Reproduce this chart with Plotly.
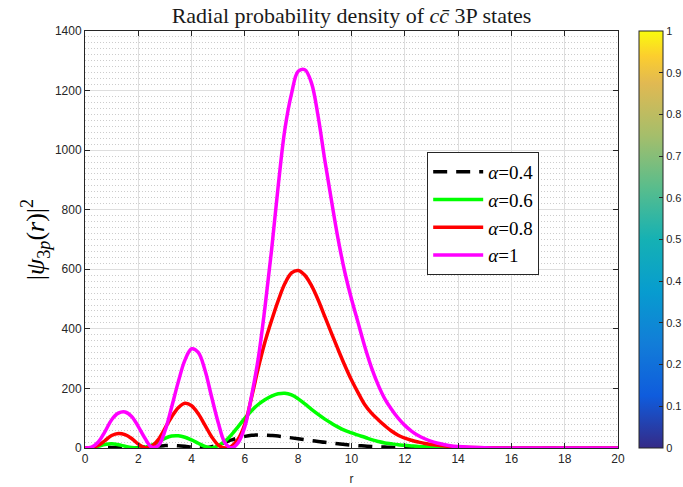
import plotly.graph_objects as go

# shared radial grid (r) on which all densities are tabulated
r = [0, 0.25, 0.5, 0.75, 1.0, 1.25, 1.5, 1.75, 2.0, 2.25, 2.5, 2.75, 3.0, 3.25, 3.5, 3.75,
     4.0, 4.25, 4.5, 4.75, 5.0, 5.25, 5.5, 5.75, 6.0, 6.25, 6.5, 6.75, 7.0, 7.25, 7.5, 7.75,
     8.0, 8.25, 8.5, 8.75, 9.0, 9.25, 9.5, 9.75, 10.0, 10.25, 10.5, 10.75, 11.0, 11.25, 11.5,
     11.75, 12.0, 12.25, 12.5, 12.75, 13.0, 13.25, 13.5, 13.75, 14.0, 15.0, 16.0, 17.0, 18.0,
     19.0, 20.0]

# |psi_3p(r)|^2 for alpha = 0.4, 0.6, 0.8, 1
p_a04 = [0, 0.3, 1.5, 2.2, 2.0, 1.0, 0.2, 0.1, 1.0, 3.0, 5.0, 7.0, 8.0, 8.5, 7.5, 5.5,
         3.0, 1.0, 0.2, 4.0, 11, 19, 27, 34, 39, 42.5, 44, 43.5, 42, 40, 37, 34,
         31, 28, 25, 22, 19, 16.5, 14, 11.5, 9.5, 8.0, 6.5, 5.0, 4.0, 3.2, 2.4,
         1.8, 1.3, 1.0, 0.7, 0.5, 0.3, 0.2, 0.15, 0.1, 0.1, 0, 0, 0, 0,
         0, 0]
p_a06 = [0, 1, 6, 12, 14, 11, 6, 1.5, 0.3, 3, 10, 20, 32, 40, 41, 36,
         27, 16, 5, 0.3, 8, 22, 45, 72, 100, 125, 146, 162, 174, 182, 184, 178,
         165, 148, 130, 113, 97, 83, 70, 59, 51, 43, 36, 28, 22, 17, 14,
         11, 9, 7, 5, 4, 3, 2, 1.5, 1, 0.5, 0, 0, 0, 0,
         0, 0]
p_a08 = [0, 1, 9, 25, 42, 49, 45, 32, 13, 0.5, 6, 28, 66, 104, 135, 150,
         142, 115, 77, 38, 10, 0.2, 6, 30, 80, 170, 268, 355, 428, 495, 552, 588,
         596, 580, 545, 497, 441, 385, 330, 277, 228, 185, 145, 117, 95, 75, 57,
         43, 33, 26, 20, 15, 12, 9, 7, 5, 3, 0.5, 0, 0, 0,
         0, 0]
p_a10 = [0, 3, 20, 55, 95, 117, 121, 106, 72, 33, 3, 8, 57, 137, 222, 295,
         333, 321, 262, 172, 85, 18, 0.5, 18, 72, 175, 300, 470, 664, 880, 1070, 1190,
         1265, 1270, 1225, 1112, 965, 830, 700, 590, 500, 420, 340, 270, 212, 165, 130,
         100, 76, 57, 42, 31, 22, 16, 11, 7, 5, 0.8, 0, 0, 0,
         0, 0]

alphas = ["0.4", "0.6", "0.8", "1"]

# parula colormap stops for the colorbar
parula = [
    [0.0, "rgb(53,42,135)"], [0.125, "rgb(15,92,221)"], [0.25, "rgb(18,125,216)"],
    [0.375, "rgb(7,156,207)"], [0.5, "rgb(21,177,180)"], [0.625, "rgb(89,189,140)"],
    [0.75, "rgb(165,190,107)"], [0.875, "rgb(225,185,82)"], [0.94, "rgb(252,206,46)"],
    [1.0, "rgb(249,251,14)"],
]

AX = "#262626"
SERIF = "Liberation Serif, DejaVu Serif, serif"
SANS = "Liberation Sans, Arial, sans-serif"

fig = go.Figure()

styles = [
    (p_a04, "black", "14px,9px"),
    (p_a06, "#00ff00", "solid"),
    (p_a08, "#ff0000", "solid"),
    (p_a10, "#ff00ff", "solid"),
]
for (pp, col, dash), a in zip(styles, alphas):
    fig.add_trace(go.Scatter(
        x=r, y=pp, mode="lines", name="<i>α</i>=" + a,
        line=dict(color=col, width=3.5, dash=dash, shape="spline", smoothing=1.0),
    ))

# colorbar carrier (no visible marks)
fig.add_trace(go.Scatter(
    x=[None], y=[None], mode="markers", showlegend=False, hoverinfo="skip",
    marker=dict(color=[0, 1], cmin=0, cmax=1, colorscale=parula, showscale=True,
                colorbar=dict(
                    x=1.039, xanchor="left", xref="paper", y=0.5, yanchor="middle",
                    len=1.0, lenmode="fraction", thickness=24, thicknessmode="pixels",
                    outlinecolor=AX, outlinewidth=1,
                    tickvals=[0, 0.1, 0.2, 0.3, 0.4, 0.5, 0.6, 0.7, 0.8, 0.9, 1],
                    ticktext=["0", "0.1", "0.2", "0.3", "0.4", "0.5", "0.6", "0.7", "0.8", "0.9", "1"],
                    ticks="inside", ticklen=4, tickcolor=AX,
                    tickfont=dict(family=SANS, size=11, color=AX),
                    xpad=0, ypad=0,
                )),
))

fig.update_layout(
    width=683, height=487,
    margin=dict(l=85, r=65, t=31, b=39, autoexpand=False),
    paper_bgcolor="white", plot_bgcolor="white",
    title=dict(
        text="Radial probability density of <i>cc̄</i> 3P states",
        x=(85 + 618) / 2 / 683, xanchor="center", y=1 - 15 / 487, yanchor="middle",
        font=dict(family=SERIF, size=22, color="#1a1a1a"),
    ),
    legend=dict(
        x=0.642, y=0.71, xanchor="left", yanchor="top",
        bgcolor="white", bordercolor=AX, borderwidth=1,
        font=dict(family=SERIF, size=19, color="black"),
        tracegroupgap=0, itemwidth=50,
    ),
    xaxis=dict(
        range=[0, 20], dtick=2, tick0=0,
        showline=True, linecolor=AX, linewidth=1, mirror="ticks",
        ticks="inside", ticklen=5, tickcolor=AX,
        showgrid=True, gridcolor="#dedede", gridwidth=1, zeroline=False,
        tickfont=dict(family=SANS, size=12, color=AX),
        title=dict(text="r", font=dict(family=SANS, size=12, color=AX), standoff=9),
    ),
    yaxis=dict(
        range=[0, 1400], dtick=200, tick0=0,
        showline=True, linecolor=AX, linewidth=1, mirror="ticks",
        ticks="inside", ticklen=5, tickcolor=AX,
        showgrid=True, gridcolor="#dedede", gridwidth=1, zeroline=False,
        minor=dict(dtick=20, showgrid=True, gridcolor="#cccccc", griddash="1px,2px", gridwidth=1),
        tickfont=dict(family=SANS, size=12, color=AX),
        title=dict(text="|<i>ψ</i><sub>3<i>p</i></sub>(<i>r</i>)|<sup>2</sup>",
                   font=dict(family=SERIF, size=26, color="black"), standoff=2),
    ),
)

fig.write_html("out.html")
